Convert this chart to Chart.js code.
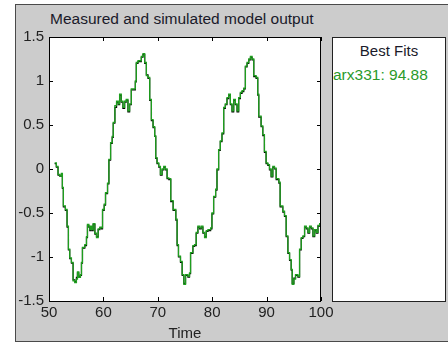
<!DOCTYPE html>
<html>
<head>
<meta charset="utf-8">
<script src="https://cdn.jsdelivr.net/npm/chart.js@4.4.1/dist/chart.umd.min.js"></script>
<style>
  html, body { margin:0; padding:0; background:#fff; }
  body { width:448px; height:345px; position:relative; overflow:hidden; font-family:"Liberation Sans", Arial, sans-serif; }
  #frame { position:absolute; left:15px; top:4px; width:440px; height:338px; background:#cccccc; border:1px solid #4a4a4a; box-sizing:border-box; }
  #title { position:absolute; left:50px; top:10px; font-size:15.5px; color:#1a1a2a; white-space:nowrap; }
  #fits { position:absolute; left:332px; top:37px; width:114px; height:265px; background:#fff; border:1px solid #222; box-sizing:border-box; }
  #fits .head { position:absolute; left:0; right:0; top:4px; text-align:center; font-size:15px; color:#1a1a2a; }
  #fits .row { position:absolute; left:0; top:28px; font-size:15.5px; color:#2a9a2a; white-space:nowrap; }
  canvas { position:absolute; left:0; top:0; }
</style>
</head>
<body>
<div id="frame"></div>
<div id="title">Measured and simulated model output</div>
<div id="fits"><div class="head">Best Fits</div><div class="row">arx331: 94.88</div></div>
<canvas id="c" width="448" height="345"></canvas>
<script>
// time axis samples
const times = [51.04,51.35,51.66,51.97,52.28,52.46,52.64,53.01,53.32,53.57,53.81,54.12,54.43,54.73,55.04,55.23,55.47,55.78,55.97,56.15,
  56.58,56.89,57.07,57.32,57.5,57.69,57.93,58.12,58.43,58.73,59.04,59.35,59.65,59.84,60.15,60.39,60.76,61.01,61.32,61.62,
  61.81,62.11,62.42,62.73,62.98,63.28,63.59,63.9,64.2,64.51,64.82,65.13,65.56,65.87,66.05,66.36,66.67,66.97,67.28,67.59,
  67.9,68.2,68.51,68.82,69.13,69.43,69.62,69.86,70.17,70.48,70.79,71.09,71.4,71.71,72.02,72.38,72.82,73.31,73.55,73.8,
  74.17,74.48,74.78,75.1,75.53,75.83,76.02,76.45,76.75,77.06,77.37,77.68,77.99,78.29,78.6,78.91,79.22,79.71,79.95,80.26,
  80.63,80.88,81.18,81.49,81.8,82.11,82.41,82.72,83.03,83.34,83.64,83.95,84.26,84.57,84.87,85.18,85.49,85.8,86.1,86.41,
  86.72,87.03,87.33,87.64,88.07,88.37,88.56,88.99,89.3,89.6,89.91,90.22,90.53,90.83,91.14,91.45,91.76,92.25,92.49,92.98,
  93.29,93.6,93.91,94.22,94.52,94.71,95.01,95.32,95.75,96.06,96.37,96.68,96.98,97.29,97.6,97.9,98.21,98.52,98.83,99.14,
  99.44,99.75,100];
const simulated = [0.07,0.03,-0.06,-0.08,-0.05,-0.21,-0.42,-0.46,-0.65,-0.91,-1.01,-1.06,-1.27,-1.29,-1.25,-1.17,-1.23,-1.2,-1.06,-0.89,
  -0.86,-0.77,-0.63,-0.65,-0.69,-0.65,-0.69,-0.62,-0.73,-0.78,-0.68,-0.66,-0.67,-0.46,-0.40,-0.27,-0.16,0.11,0.30,0.37,
  0.53,0.72,0.77,0.74,0.85,0.77,0.70,0.77,0.79,0.66,0.74,0.91,0.91,1.0,1.21,1.23,1.23,1.28,1.31,1.21,
  1.06,1.04,0.79,0.56,0.48,0.375,0.13,0.07,0.03,-0.06,0.0,0.03,0.0,-0.10,-0.11,-0.36,-0.46,-0.57,-0.86,-0.99,
  -1.05,-1.2,-1.31,-1.2,-1.22,-1.18,-0.95,-0.87,-0.86,-0.72,-0.65,-0.67,-0.65,-0.72,-0.78,-0.70,-0.69,-0.67,-0.50,-0.31,
  -0.23,0.0,0.22,0.32,0.41,0.70,0.74,0.81,0.85,0.74,0.66,0.79,0.74,0.66,0.81,0.87,0.89,0.92,1.17,1.21,
  1.25,1.28,1.25,1.06,1.04,0.85,0.60,0.49,0.39,0.20,0.07,0.05,0.0,-0.08,0.03,0.01,-0.11,-0.15,-0.42,-0.48,
  -0.53,-0.76,-0.95,-1.03,-1.14,-1.31,-1.25,-1.2,-1.22,-0.91,-0.78,-0.76,-0.65,-0.67,-0.72,-0.65,-0.67,-0.76,-0.69,-0.72,
  -0.64,-0.62,-0.42];
const measured = [0.06,0.02,-0.07,-0.08,-0.06,-0.22,-0.43,-0.47,-0.66,-0.92,-1.02,-1.07,-1.26,-1.28,-1.23,-1.18,-1.22,-1.21,-1.07,-0.90,
  -0.87,-0.78,-0.64,-0.66,-0.70,-0.66,-0.70,-0.63,-0.74,-0.77,-0.69,-0.67,-0.68,-0.47,-0.41,-0.28,-0.17,0.10,0.29,0.36,
  0.52,0.70,0.76,0.73,0.84,0.76,0.69,0.76,0.78,0.65,0.73,0.90,0.90,0.99,1.2,1.22,1.22,1.27,1.3,1.2,
  1.07,1.03,0.78,0.55,0.47,0.37,0.12,0.06,0.02,-0.07,-0.01,0.02,-0.01,-0.11,-0.12,-0.37,-0.47,-0.58,-0.87,-1.0,
  -1.06,-1.21,-1.3,-1.21,-1.23,-1.19,-0.96,-0.88,-0.87,-0.73,-0.66,-0.68,-0.66,-0.73,-0.77,-0.71,-0.70,-0.68,-0.51,-0.32,
  -0.24,-0.01,0.21,0.31,0.40,0.69,0.73,0.80,0.84,0.73,0.65,0.78,0.73,0.65,0.80,0.86,0.88,0.91,1.16,1.2,
  1.24,1.27,1.24,1.05,1.03,0.84,0.59,0.48,0.38,0.19,0.06,0.04,-0.01,-0.09,0.02,0.0,-0.12,-0.16,-0.43,-0.49,
  -0.54,-0.77,-0.96,-1.04,-1.15,-1.3,-1.24,-1.21,-1.23,-0.92,-0.79,-0.77,-0.66,-0.68,-0.73,-0.66,-0.68,-0.77,-0.70,-0.73,
  -0.65,-0.63,-0.43];
const xTicks = [50, 60, 70, 80, 90, 100];
const yTicks = [-1.5, -1, -0.5, 0, 0.5, 1, 1.5];

const pts = arr => arr.map((v, i) => ({ x: times[i], y: v }));
const font = { family: '"Liberation Sans", Arial, sans-serif', size: 15 };

// white plot background, frame around it and inward tick marks on all four sides
const frameTicks = {
  id: 'frameTicks',
  beforeDraw(chart) {
    const { ctx, chartArea: a } = chart;
    ctx.save();
    ctx.fillStyle = '#fff';
    ctx.fillRect(a.left, a.top, a.right - a.left, a.bottom - a.top);
    ctx.restore();
  },
  afterDraw(chart) {
    const { ctx, chartArea: a, scales } = chart;
    ctx.save();
    ctx.strokeStyle = '#000';
    ctx.lineWidth = 1;
    ctx.strokeRect(Math.round(a.left) + 0.5, Math.round(a.top) + 0.5, Math.round(a.right - a.left) - 1, Math.round(a.bottom - a.top));
    ctx.beginPath();
    scales.x.ticks.forEach(t => {
      const px = Math.round(scales.x.getPixelForValue(t.value)) + 0.5;
      ctx.moveTo(px, a.bottom); ctx.lineTo(px, a.bottom - 4);
      ctx.moveTo(px, a.top); ctx.lineTo(px, a.top + 4);
    });
    scales.y.ticks.forEach(t => {
      const py = Math.round(scales.y.getPixelForValue(t.value)) + 0.5;
      ctx.moveTo(a.left, py); ctx.lineTo(a.left + 4, py);
      ctx.moveTo(a.right, py); ctx.lineTo(a.right - 4, py);
    });
    ctx.stroke();
    ctx.restore();
  }
};

new Chart(document.getElementById('c').getContext('2d'), {
  type: 'line',
  data: { datasets: [
    { label: 'arx331', data: pts(simulated), borderColor: '#1e9e1e', borderWidth: 1.3, pointRadius: 0, stepped: true, order: 0 },
    { label: 'measured', data: pts(measured), borderColor: '#000', borderWidth: 1.2, pointRadius: 0, stepped: true, order: 1 }
  ]},
  options: {
    responsive: false, animation: false,
    layout: { padding: { left: 0, top: 37, right: 127, bottom: 0 } },
    plugins: { legend: { display: false }, tooltip: { enabled: false } },
    scales: {
      x: {
        type: 'linear', min: 50, max: 100,
        afterBuildTicks: s => { s.ticks = xTicks.map(v => ({ value: v })); },
        afterFit: s => { s.height = 44; },
        grid: { display: false, drawTicks: false }, border: { display: false },
        ticks: { color: '#222', font, padding: 3, maxRotation: 0, callback: v => String(v) },
        title: { display: true, text: 'Time', color: '#222', font, padding: { top: 0, bottom: 2 } }
      },
      y: {
        min: -1.5, max: 1.5,
        afterBuildTicks: s => { s.ticks = yTicks.map(v => ({ value: v })); },
        afterFit: s => { s.width = 49; },
        grid: { display: false, drawTicks: false }, border: { display: false },
        ticks: { color: '#222', font, padding: 5, callback: v => String(v) }
      }
    }
  },
  plugins: [frameTicks]
});
</script>
</body>
</html>
